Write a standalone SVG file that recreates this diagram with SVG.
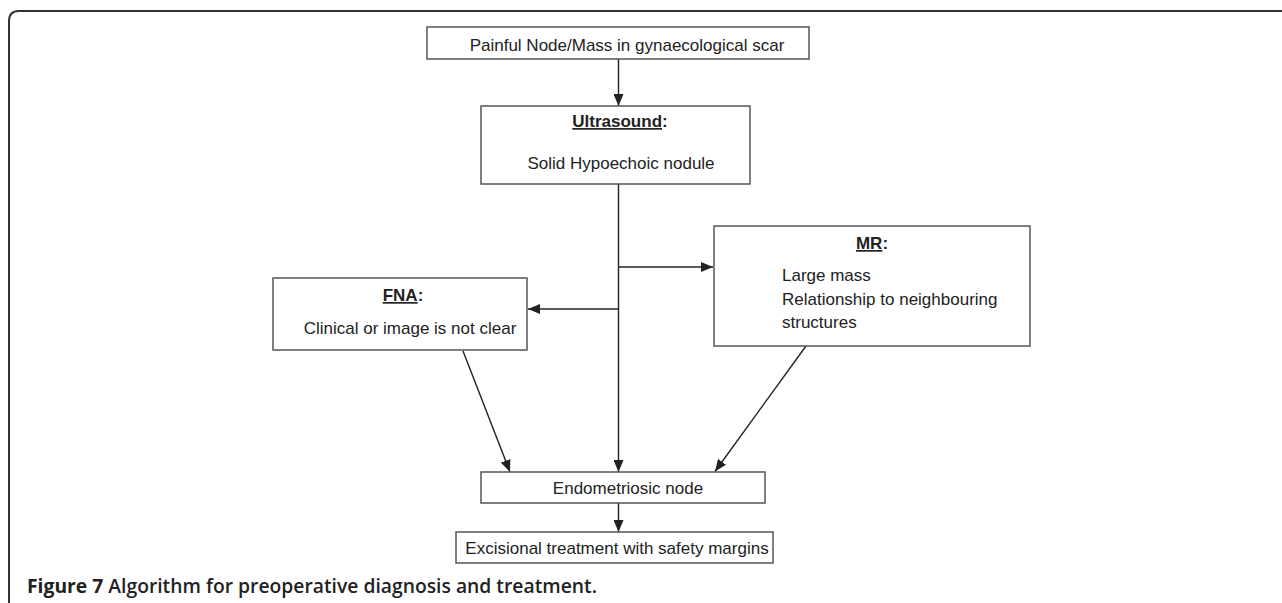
<svg xmlns="http://www.w3.org/2000/svg" width="1282" height="603" viewBox="0 0 1282 603">
<style>
.box{fill:#fff;stroke:#555;stroke-width:1.5}
.t{font-family:"Liberation Sans",Arial,sans-serif;font-size:17px;fill:#222}
.b{font-weight:bold}
.c{text-anchor:middle}
.ln{fill:none;stroke:#222;stroke-width:1.4}
.cap{font-family:"Open Sans","DejaVu Sans",sans-serif;font-size:19px;fill:#222}
</style>
<defs>
<marker id="ah" markerUnits="userSpaceOnUse" markerWidth="12" markerHeight="10" viewBox="0 0 12 10" refX="12" refY="5" orient="auto">
<path d="M0,0 L12,5 L0,10 Z" fill="#222"/>
</marker>
</defs>
<rect width="1282" height="603" fill="#fff"/>
<path d="M9,603 L9,21 Q9,11 19,11 L1282,11" fill="none" stroke="#333" stroke-width="2"/>
<g id="connectors">
<line class="ln" x1="618.5" y1="59" x2="618.5" y2="106" marker-end="url(#ah)"/>
<line class="ln" x1="618.5" y1="184" x2="618.5" y2="472" marker-end="url(#ah)"/>
<line class="ln" x1="618.5" y1="267" x2="713" y2="267" marker-end="url(#ah)"/>
<line class="ln" x1="618.5" y1="309" x2="528" y2="309" marker-end="url(#ah)"/>
<line class="ln" x1="463" y1="351" x2="510" y2="472" marker-end="url(#ah)"/>
<line class="ln" x1="806" y1="346" x2="715" y2="471.5" marker-end="url(#ah)"/>
<line class="ln" x1="618.5" y1="503" x2="618.5" y2="532" marker-end="url(#ah)"/>
</g>
<g id="node-painful">
<rect class="box" x="427" y="27" width="382" height="32"/>
<text class="t c" x="627" y="51">Painful Node/Mass in gynaecological scar</text>
</g>
<g id="node-ultrasound">
<rect class="box" x="481" y="106" width="269" height="78"/>
<text class="t c b" x="620" y="127"><tspan text-decoration="underline">Ultrasound</tspan>:</text>
<text class="t c" x="621" y="169">Solid Hypoechoic nodule</text>
</g>
<g id="node-fna">
<rect class="box" x="273" y="278" width="254" height="72"/>
<text class="t c b" x="403" y="301"><tspan text-decoration="underline">FNA</tspan>:</text>
<text class="t c" x="410" y="334">Clinical or image is not clear</text>
</g>
<g id="node-mr">
<rect class="box" x="714" y="226" width="316" height="120"/>
<text class="t c b" x="872" y="249"><tspan text-decoration="underline">MR</tspan>:</text>
<text class="t" x="782" y="281">Large mass</text>
<text class="t" x="782" y="305">Relationship to neighbouring</text>
<text class="t" x="782" y="328">structures</text>
</g>
<g id="node-endometriosic">
<rect class="box" x="481" y="472" width="284" height="31"/>
<text class="t c" x="628" y="494">Endometriosic node</text>
</g>
<g id="node-excisional">
<rect class="box" x="456" y="532" width="317" height="31"/>
<text class="t c" x="617" y="554">Excisional treatment with safety margins</text>
</g>
<text class="cap" x="27" y="593" textLength="570" lengthAdjust="spacingAndGlyphs"><tspan font-weight="700">Figure 7</tspan><tspan font-weight="600"> Algorithm for preoperative diagnosis and treatment.</tspan></text>
</svg>
